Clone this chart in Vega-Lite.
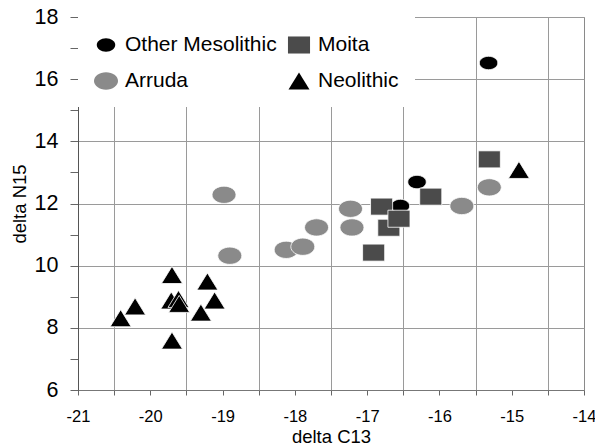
{
  "$schema": "https://vega.github.io/schema/vega-lite/v6.json",
  "width": 506,
  "height": 373,
  "autosize": {"type": "none"},
  "padding": {"left": 78, "top": 17, "right": 11, "bottom": 58},
  "background": "white",
  "config": {
    "font": "Liberation Sans",
    "view": {"stroke": "#8a8a8a", "strokeWidth": 1},
    "axis": {"labelFont": "Liberation Sans", "titleFont": "Liberation Sans", "labelColor": "#000", "titleColor": "#000", "titleFontWeight": "normal"}
  },
  "data": {
    "values": [
      {"group": "Other Mesolithic", "c13": -15.32, "n15": 16.52},
      {"group": "Other Mesolithic", "c13": -16.31, "n15": 12.69},
      {"group": "Other Mesolithic", "c13": -16.54, "n15": 11.92},
      {"group": "Arruda", "c13": -18.98, "n15": 12.28},
      {"group": "Arruda", "c13": -18.9, "n15": 10.32},
      {"group": "Arruda", "c13": -18.12, "n15": 10.51},
      {"group": "Arruda", "c13": -17.89, "n15": 10.61},
      {"group": "Arruda", "c13": -17.7, "n15": 11.23},
      {"group": "Arruda", "c13": -17.23, "n15": 11.83},
      {"group": "Arruda", "c13": -17.21, "n15": 11.23},
      {"group": "Arruda", "c13": -15.69, "n15": 11.92},
      {"group": "Arruda", "c13": -15.31, "n15": 12.52},
      {"group": "Moita", "c13": -16.8, "n15": 11.9},
      {"group": "Moita", "c13": -16.7, "n15": 11.22},
      {"group": "Moita", "c13": -16.56, "n15": 11.51},
      {"group": "Moita", "c13": -16.91, "n15": 10.42},
      {"group": "Moita", "c13": -16.12, "n15": 12.22},
      {"group": "Moita", "c13": -15.31, "n15": 13.42},
      {"group": "Neolithic", "c13": -14.9, "n15": 13.08},
      {"group": "Neolithic", "c13": -20.41, "n15": 8.31},
      {"group": "Neolithic", "c13": -20.21, "n15": 8.69},
      {"group": "Neolithic", "c13": -19.7, "n15": 9.7},
      {"group": "Neolithic", "c13": -19.71, "n15": 8.88},
      {"group": "Neolithic", "c13": -19.61, "n15": 8.93},
      {"group": "Neolithic", "c13": -19.6, "n15": 8.77},
      {"group": "Neolithic", "c13": -19.7, "n15": 7.59},
      {"group": "Neolithic", "c13": -19.21, "n15": 9.49},
      {"group": "Neolithic", "c13": -19.11, "n15": 8.88},
      {"group": "Neolithic", "c13": -19.3, "n15": 8.49}
    ]
  },
  "mark": {"type": "point", "filled": true, "opacity": 1, "size": 576, "stroke": "white", "strokeWidth": 0.8},
  "encoding": {
    "x": {
      "field": "c13", "type": "quantitative",
      "scale": {"domain": [-21, -14], "nice": false, "zero": false},
      "axis": {
        "title": "delta C13", "titleFontSize": 18.5, "titleBaseline": "alphabetic", "titleY": 52,
        "values": [-21, -20.5, -20, -19.5, -19, -18.5, -18, -17.5, -17, -16.5, -16, -15.5, -15, -14.5, -14],
        "format": ".0f",
        "labelExpr": "datum.value % 1 == 0 ? '-' + format(abs(datum.value), 'd') : ''",
        "labelFontSize": 16.5, "labelFlush": false, "labelOverlap": false, "labelPadding": 13,
        "tickSize": 5, "tickColor": "#666", "domainColor": "#777",
        "grid": true, "gridColor": "#9a9a9a", "gridWidth": 1,
        "gridOpacity": {"condition": {"test": "datum.value % 1 != 0", "value": 1}, "value": 0}
      }
    },
    "y": {
      "field": "n15", "type": "quantitative",
      "scale": {"domain": [6, 18], "nice": false, "zero": false},
      "axis": {
        "title": "delta N15", "titleFontSize": 18.5, "titleBaseline": "alphabetic", "titleX": -53,
        "values": [6, 7, 8, 9, 10, 11, 12, 13, 14, 15, 16, 17, 18],
        "format": ".0f",
        "labelExpr": "datum.value % 2 == 0 ? datum.label : ''",
        "labelFontSize": 21.5, "labelFlush": false, "labelOverlap": false, "labelPadding": 12,
        "tickSize": 8, "tickColor": "#666", "domainColor": "#555",
        "grid": true, "gridColor": "#9a9a9a", "gridWidth": 1,
        "gridOpacity": {"condition": {"test": "datum.value % 2 == 0", "value": 1}, "value": 0}
      }
    },
    "color": {
      "field": "group", "type": "nominal",
      "scale": {"domain": ["Other Mesolithic", "Arruda", "Moita", "Neolithic"], "range": ["#000000", "#8a8a8a", "#4b4b4b", "#000000"]},
      "legend": {
        "title": null, "orient": "top-left", "offset": 0, "padding": 16, "fillColor": "white",
        "columns": 2, "columnPadding": 10, "rowPadding": 14, "labelFontSize": 21, "labelFont": "Liberation Sans",
        "labelColor": "#000", "labelLimit": 300, "symbolSize": 576, "labelOffset": 7, "symbolStrokeWidth": 0
      }
    },
    "shape": {
      "field": "group", "type": "nominal",
      "scale": {
        "domain": ["Other Mesolithic", "Arruda", "Moita", "Neolithic"],
        "range": [
          "M-0.77,0C-0.77,-0.31,-0.425,-0.56,0,-0.56C0.425,-0.56,0.77,-0.31,0.77,0C0.77,0.31,0.425,0.56,0,0.56C-0.425,0.56,-0.77,0.31,-0.77,0Z",
          "M-1,0C-1,-0.4,-0.552,-0.72,0,-0.72C0.552,-0.72,1,-0.4,1,0C1,0.4,0.552,0.72,0,0.72C-0.552,0.72,-1,0.4,-1,0Z",
          "M-0.92,-0.71L0.92,-0.71L0.92,0.71L-0.92,0.71Z",
          "M-0.875,0.71L0.875,0.71L0,-0.71Z"
        ]
      },
      "legend": {
        "title": null, "orient": "top-left", "offset": 0, "padding": 16, "fillColor": "white",
        "columns": 2, "columnPadding": 10, "rowPadding": 14, "labelFontSize": 21, "labelFont": "Liberation Sans",
        "labelColor": "#000", "labelLimit": 300, "symbolSize": 576, "labelOffset": 7, "symbolStrokeWidth": 0
      }
    }
  }
}
